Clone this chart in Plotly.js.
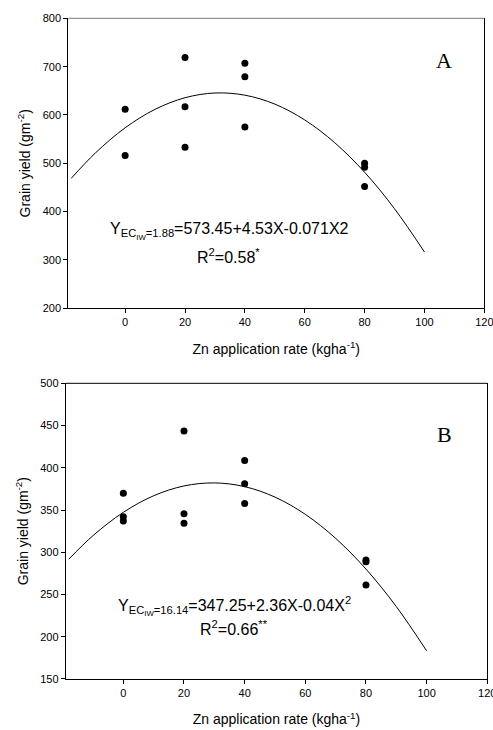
<!DOCTYPE html>
<html>
<head>
<meta charset="utf-8">
<script src="https://cdn.plot.ly/plotly-3.0.1.min.js"></script>
<style>
html,body{margin:0;padding:0;background:#fff;}
#chart{width:493px;height:730px;}
</style>
</head>
<body>
<div id="chart"></div>
<script>
// Panel A observed points
const xA = [0, 0, 20, 20, 20, 40, 40, 40, 80, 80, 80];
const yA = [612, 516, 719, 617, 533, 707, 679, 575, 500, 492, 452];
// Panel A fitted curve
const curveXA = [-18, -10, 0, 10, 20, 30, 40, 50, 60, 70, 80, 90, 100];
const curveYA = [469, 521, 573.5, 611.7, 635.7, 645.5, 641, 622.5, 589.7, 542.7, 481.5, 406, 316.5];

// Panel B observed points
const xB = [0, 0, 0, 20, 20, 20, 40, 40, 40, 80, 80, 80];
const yB = [370, 342, 337, 443.6, 345.7, 334.3, 408.5, 381.2, 357.6, 290.9, 288.8, 261.3];
// Panel B fitted curve
const curveXB = [-18, -10, 0, 10, 20, 30, 40, 50, 60, 70, 80, 90, 100];
const curveYB = [291.8, 319.7, 347.3, 366.9, 378.5, 382.1, 377.7, 365.3, 344.9, 316.5, 280.1, 235.7, 183.3];

const xTicks = [0, 20, 40, 60, 80, 100, 120];
const yTicksA = [200, 300, 400, 500, 600, 700, 800];
const yTicksB = [150, 200, 250, 300, 350, 400, 450, 500];

const xTitle = 'Zn application rate (kgha<sup>-1</sup>)';
const yTitle = 'Grain yield (gm<sup>-2</sup>)';
const eqA = 'Y<sub>EC<sub>IW</sub>=1.88</sub>=573.45+4.53X-0.071X2';
const r2A = 'R<sup>2</sup>=0.58<sup>*</sup>';
const eqB = 'Y<sub>EC<sub>IW</sub>=16.14</sub>=347.25+2.36X-0.04X<sup>2</sup>';
const r2B = 'R<sup>2</sup>=0.66<sup>**</sup>';

const FONT = 'Liberation Sans, Arial, sans-serif';

const traces = [
  {x: curveXA, y: curveYA, type: 'scatter', mode: 'lines', line: {color: '#000', width: 1, shape: 'spline'}, xaxis: 'x', yaxis: 'y', hoverinfo: 'skip'},
  {x: xA, y: yA, type: 'scatter', mode: 'markers', marker: {color: '#000', size: 7}, xaxis: 'x', yaxis: 'y'},
  {x: curveXB, y: curveYB, type: 'scatter', mode: 'lines', line: {color: '#000', width: 1, shape: 'spline'}, xaxis: 'x2', yaxis: 'y2', hoverinfo: 'skip'},
  {x: xB, y: yB, type: 'scatter', mode: 'markers', marker: {color: '#000', size: 7}, xaxis: 'x2', yaxis: 'y2'}
];

function xax(domain, anchor) {
  return {
    domain: domain, anchor: anchor, range: [-19, 120], tickvals: xTicks,
    showline: true, linecolor: '#000', linewidth: 1, mirror: false,
    ticks: 'outside', ticklen: 4, tickcolor: '#000', showgrid: false, zeroline: false,
    ticklabeloverflow: 'allow',
    tickfont: {family: FONT, size: 11, color: '#000'},
    title: {text: xTitle, font: {family: FONT, size: 14, color: '#000'}, standoff: 16}
  };
}
function yax(domain, anchor, range, ticks) {
  return {
    domain: domain, anchor: anchor, range: range, tickvals: ticks,
    showline: true, linecolor: '#000', linewidth: 1, mirror: true,
    ticks: 'outside', ticklen: 4, tickcolor: '#000', showgrid: false, zeroline: false,
    tickfont: {family: FONT, size: 11, color: '#000'},
    title: {text: yTitle, font: {family: FONT, size: 14, color: '#000'}, standoff: 8}
  };
}

const layout = {
  width: 493, height: 730,
  margin: {l: 0, r: 0, t: 0, b: 0},
  paper_bgcolor: '#fff', plot_bgcolor: '#fff',
  showlegend: false,
  xaxis: xax([0.1385, 0.9824], 'y'),
  yaxis: yax([0.5777, 0.9749], 'x', [200, 800], yTicksA),
  xaxis2: xax([0.1333, 0.9884], 'y2'),
  yaxis2: yax([0.0699, 0.4749], 'x2', [150, 500], yTicksB),
  shapes: [
    {type: 'line', xref: 'x domain', yref: 'y domain', x0: 0, x1: 1, y0: 1, y1: 1, line: {color: '#777', width: 1}},
    {type: 'line', xref: 'x2 domain', yref: 'y2 domain', x0: 0, x1: 1, y0: 1, y1: 1, line: {color: '#000', width: 1}}
  ],
  annotations: [
    {xref: 'x', yref: 'y', x: 34.7, y: 359, text: eqA, showarrow: false, font: {family: FONT, size: 16, color: '#000'}, xanchor: 'center', yanchor: 'middle'},
    {xref: 'x', yref: 'y', x: 34.4, y: 309, text: r2A, showarrow: false, font: {family: FONT, size: 16, color: '#000'}, xanchor: 'center', yanchor: 'middle'},
    {xref: 'x', yref: 'y', x: 106.5, y: 712, text: 'A', showarrow: false, font: {family: 'Liberation Serif, Times New Roman, serif', size: 22, color: '#000'}, xanchor: 'center', yanchor: 'middle'},
    {xref: 'x2', yref: 'y2', x: 36.5, y: 236, text: eqB, showarrow: false, font: {family: FONT, size: 16, color: '#000'}, xanchor: 'center', yanchor: 'middle'},
    {xref: 'x2', yref: 'y2', x: 36.5, y: 210, text: r2B, showarrow: false, font: {family: FONT, size: 16, color: '#000'}, xanchor: 'center', yanchor: 'middle'},
    {xref: 'x2', yref: 'y2', x: 106, y: 440, text: 'B', showarrow: false, font: {family: 'Liberation Serif, Times New Roman, serif', size: 22, color: '#000'}, xanchor: 'center', yanchor: 'middle'}
  ]
};

Plotly.newPlot('chart', traces, layout, {displayModeBar: false, staticPlot: true});
</script>
</body>
</html>
